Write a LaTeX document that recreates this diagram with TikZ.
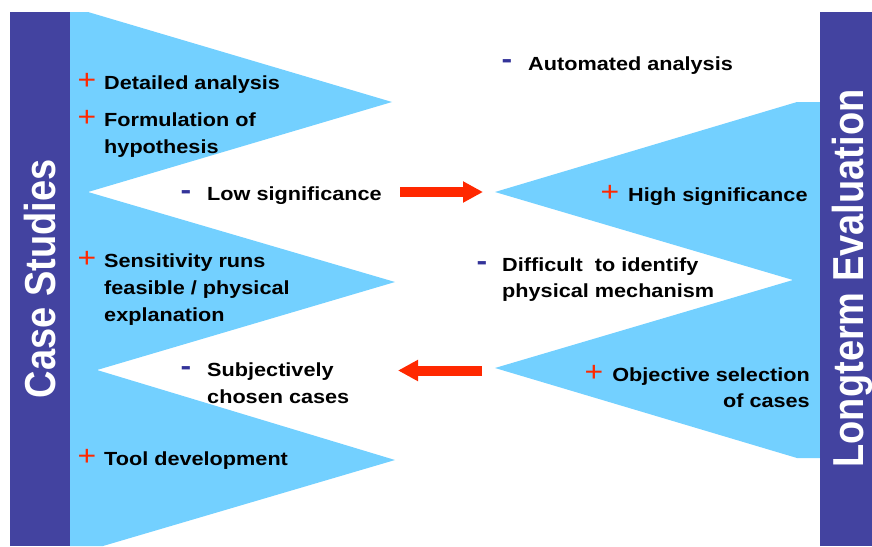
\documentclass[tikz,border=0pt]{standalone}
\usepackage{fontspec}
\setmainfont{Liberation Sans}
\usetikzlibrary{arrows.meta}
\definecolor{barblue}{RGB}{67,67,160}
\definecolor{wedge}{RGB}{115,208,255}
\definecolor{arrowred}{RGB}{255,40,0}
\definecolor{minusblue}{RGB}{51,51,153}
% multi-line items sit on the baseline of their last line
\tikzset{
  itemtext/.style={anchor=base west, align=left, inner sep=0pt, xscale=1.14, transform shape,
    font=\bfseries\fontsize{19}{27}\selectfont},
  tightlines/.style={font=\bfseries\fontsize{19}{25.3}\selectfont},
  plusmark/.style={anchor=base, inner sep=0pt, text=arrowred, xscale=1.14, transform shape,
    font=\fontsize{28}{28}\selectfont},
  minusmark/.style={anchor=base, inner sep=0pt, text=minusblue, xscale=1.14, transform shape,
    font=\bfseries\fontsize{28}{28}\selectfont},
  barlabel/.style={anchor=base, inner sep=0pt, text=white, xscale=1.14, rotate=90, transform shape,
    font=\bfseries\fontsize{38}{38}\selectfont},
  bigarrow/.style={arrowred, line width=10pt, -{Triangle[length=20pt,width=20pt]}}
}
\begin{document}
\begin{tikzpicture}[x=1pt,y=-1pt]
  \useasboundingbox (0,0) rectangle (872,546);
  % wedges
  \fill[wedge] (70,12) -- (88,12) -- (392,102) -- (88,192) -- (395,282) -- (97,370)
    -- (395,460) -- (103,546) -- (70,546) -- cycle;
  \fill[wedge] (822,102) -- (797,102) -- (495,192) -- (793,280) -- (495,368)
    -- (797,458) -- (822,458) -- cycle;
  % side bars
  \fill[barblue] (10,12) rectangle (70,546);
  \fill[barblue] (820,12) rectangle (872,546);
  \node[barlabel] (case) at (55,279) {Case Studies};
  \node[barlabel] (longterm) at (863,278.5) {Longterm Evaluation};
  % case studies side
  \node[plusmark] at (87,89) {+};
  \node[itemtext] (detail) at (104,89) {Detailed analysis};
  \node[plusmark] at (87,126.5) {+};
  \node[itemtext] (formul) at (104,153.5) {Formulation of\\hypothesis};
  \node[minusmark] at (186,199.2) {-};
  \node[itemtext] (lowsig) at (207,200) {Low significance};
  \node[plusmark] at (87,267.5) {+};
  \node[itemtext] (sensit) at (104,321.5) {Sensitivity runs\\feasible / physical\\explanation};
  \node[minusmark] at (186,375.6) {-};
  \node[itemtext] (subject) at (207,403.5) {Subjectively\\chosen cases};
  \node[plusmark] at (87,465) {+};
  \node[itemtext] (tool) at (104,465) {Tool development};
  % longterm side
  \node[minusmark] at (507,68.9) {-};
  \node[itemtext] (auto) at (528,70) {Automated analysis};
  \node[plusmark] at (610,201.5) {+};
  \node[itemtext] (highsig) at (628,201.5) {High significance};
  \node[minusmark] at (482,270.6) {-};
  \node[itemtext, tightlines] (difficult) at (502,297) {Difficult\ \ to identify\\physical mechanism};
  \node[plusmark] at (594,381.7) {+};
  \node[itemtext, tightlines, align=right, anchor=base east] (objective) at (810,407)
    {Objective selection\\of cases};
  % arrows
  \coordinate (lowend) at (400,192);
  \coordinate (hightip) at (483,192);
  \coordinate (objend) at (482,370.5);
  \coordinate (subjtip) at (398,370.5);
  \draw[bigarrow] (lowend) -- (hightip);
  \draw[bigarrow] (objend) -- (subjtip);
\end{tikzpicture}
\end{document}
